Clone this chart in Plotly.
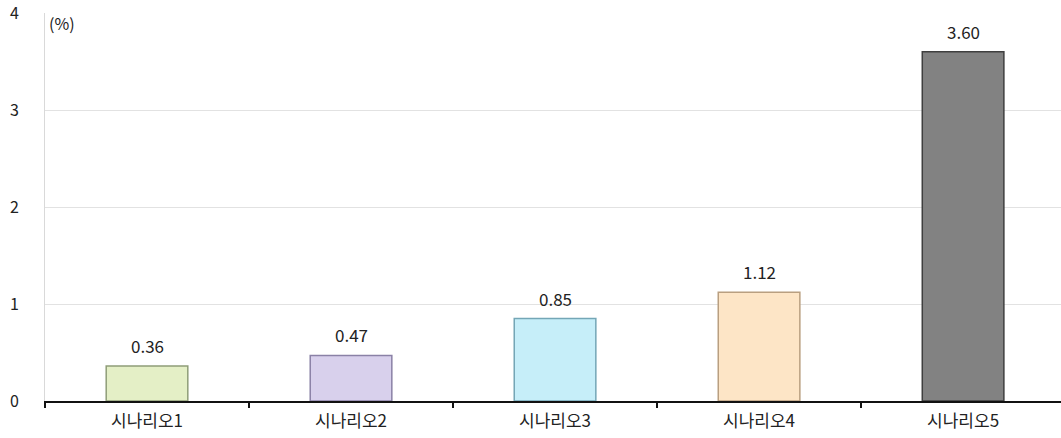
import plotly.graph_objects as go

categories = ["시나리오1", "시나리오2", "시나리오3", "시나리오4", "시나리오5"]
values = [0.36, 0.47, 0.85, 1.12, 3.60]
value_labels = ["0.36", "0.47", "0.85", "1.12", "3.60"]
y_ticks = [0, 1, 2, 3, 4]

fill_colors = ["#e4efc6", "#d8d0ec", "#c6eef9", "#fde5c6", "#828282"]
edge_colors = ["#8f9d78", "#8a81a6", "#74a6b6", "#b99f80", "#3f3f3f"]

font_family = "Noto Sans CJK KR, Noto Sans, sans-serif"
text_color = "#222222"

fig = go.Figure()
fig.add_trace(go.Bar(
    x=categories,
    y=values,
    width=0.4,
    marker=dict(color=fill_colors, line=dict(color=edge_colors, width=1.5)),
    hoverinfo="x+y",
))

# value labels sitting just above each bar
annotations = [
    dict(x=c, y=v, text=t, xref="x", yref="y", yanchor="bottom",
         yshift=6, showarrow=False,
         font=dict(family=font_family, size=17, color=text_color))
    for c, v, t in zip(categories, values, value_labels)
]
annotations.append(dict(
    text="(%)", xref="paper", yref="paper", x=0.002, y=0.975,
    xanchor="left", yanchor="middle", showarrow=False,
    font=dict(family=font_family, size=16, color=text_color),
))

fig.update_layout(
    width=1061, height=438,
    margin=dict(l=45, r=0, t=13, b=37),
    plot_bgcolor="white", paper_bgcolor="white",
    showlegend=False,
    font=dict(family=font_family, size=15, color=text_color),
    xaxis=dict(
        range=[-0.5, 4.48],
        showgrid=False,
        showline=True, linecolor="#111111", linewidth=2,
        ticks="outside", ticklen=5, tickcolor="#111111", tickwidth=1.5,
        tickson="boundaries",
        ticklabelstandoff=4,
        tickfont=dict(family=font_family, size=17, color=text_color),
    ),
    yaxis=dict(
        range=[0, 4],
        tickvals=y_ticks,
        showgrid=True, gridcolor="#e2e2e2", gridwidth=1,
        showline=True, linecolor="#d9d9d9", linewidth=1,
        zeroline=False,
        ticks="", ticklabelstandoff=22,
        ticklabeloverflow="allow",
        tickfont=dict(family=font_family, size=16, color=text_color),
    ),
    annotations=annotations,
)

fig.write_html("out.html")
